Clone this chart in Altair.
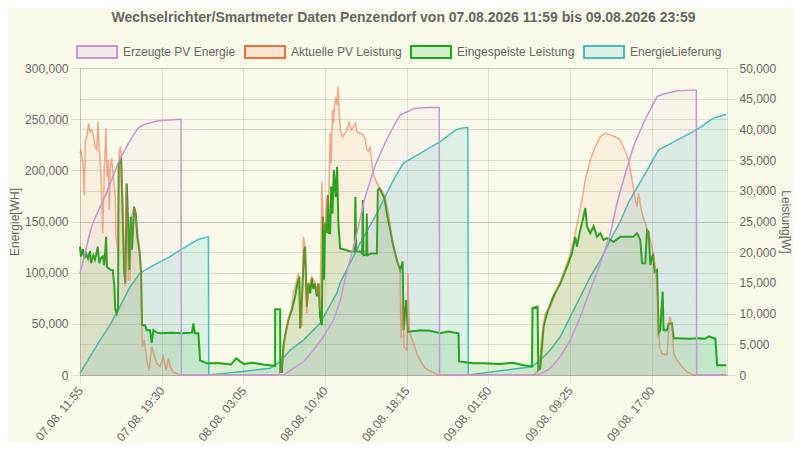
import altair as alt
import pandas as pd

FONT = "Liberation Sans"
TITLE = "Wechselrichter/Smartmeter Daten Penzendorf von 07.08.2026 11:59 bis 09.08.2026 23:59"
SERIES = ["Erzeugte PV Energie", "Aktuelle PV Leistung", "Eingespeiste Leistung", "EnergieLieferung"]
STROKES = ["#c896d6", "#e8703c", "#19a819", "#45bec4"]
START = "2026-08-07 11:55"
END = "2026-08-09 23:59"
TICKS = ["2026-08-07 11:55", "2026-08-07 19:30", "2026-08-08 03:05", "2026-08-08 10:40",
         "2026-08-08 18:15", "2026-08-09 01:50", "2026-08-09 09:25", "2026-08-09 17:00"]
ENERGY_TICKS = [0, 50000, 100000, 150000, 200000, 250000, 300000]
POWER_TICKS = [0, 5000, 10000, 15000, 20000, 25000, 30000, 35000, 40000, 45000, 50000]

# hours after 07.08. 11:55 and values
PV_ENERGIE_H = [0, 0.9, 1.17, 2.42, 3.65, 4.64, 5.37, 5.97, 7.25, 9.29,
                9.38, 9.41, 18.88, 19.81, 20.74, 21.67, 22.60, 23.53, 24.15, 24.62,
                25.57, 26.47, 27.41, 28.33, 29.26, 29.72, 30.35, 30.96, 32.2, 33.35,
                33.38, 42.11, 42.73, 43.66, 44.59, 45.52, 46.45, 47.37, 48.30, 49.23,
                49.86, 50.44, 51.37, 52.30, 53.57, 54.16, 55.46, 57.13, 57.22, 57.25,
                60.01]
PV_ENERGIE_V = [99000, 138000, 148000, 177000, 210000, 229000, 241000, 245000, 248500, 250000,
                250000, 0, 0, 6500, 13000, 24400, 37400, 53700, 72000, 94500,
                132000, 174000, 205000, 227000, 246000, 254000, 257000, 260500, 261500, 261500,
                0, 0, 1000, 6500, 17900, 34000, 57000, 83000, 109000, 138000,
                168000, 190000, 223000, 246000, 272000, 274600, 277800, 278500, 278500, 0,
                0]

LIEFERUNG_H = [0, 1.86, 2.79, 3.72, 4.64, 5.57, 6.50, 8.36, 9.29, 10.99,
               11.92, 11.96, 17.65, 18.58, 19.51, 20.74, 22.29, 23.84, 24.15, 26.01,
               27.56, 29.10, 29.72, 30.03, 31.58, 33.44, 34.83, 35.30, 36.01, 36.05,
               41.96, 42.73, 43.66, 44.59, 45.52, 46.45, 47.37, 48.30, 49.23, 50.16,
               50.94, 52.64, 53.72, 55.43, 57.29, 58.80, 59.76, 60.01]
LIEFERUNG_V = [1500, 34000, 49000, 67000, 86000, 99500, 105500, 115600, 122000, 132600,
               135000, 0, 6500, 13000, 24400, 34000, 50500, 80000, 90000, 129000,
               158000, 190500, 202000, 207000, 216600, 228000, 239000, 241000, 242000, 0,
               8100, 14700, 24400, 37400, 57000, 76500, 96000, 112000, 132000, 150000,
               169000, 200000, 220000, 229600, 240000, 251000, 254000, 254500]

PV_LEISTUNG_H = [
    0, 0.09, 0.28, 0.40, 0.49, 0.62, 0.81, 0.93, 1.09, 1.24,
    1.39, 1.55, 1.67, 1.79, 1.95, 2.11, 2.26, 2.42, 2.51, 2.63,
    2.72, 2.81, 2.94, 3.09, 3.28, 3.34, 3.50, 3.65, 3.74, 3.84,
    4.02, 4.18, 4.27, 4.40, 4.49, 4.64, 4.80, 5.02, 5.27, 5.48,
    5.64, 5.79, 5.97, 6.20, 6.41, 6.66, 6.85, 7.12, 7.43, 7.74,
    7.99, 8.20, 8.36, 8.64, 9.29,
    18.43, 18.74, 19.04, 19.35, 19.66, 19.81, 20.13, 20.28, 20.44, 20.59,
    20.74, 20.90, 21.06, 21.21, 21.37, 21.52, 21.67, 21.83, 21.99, 22.14,
    22.29, 22.45, 22.60, 22.76, 22.92, 23.07, 23.22, 23.32, 23.44, 23.53,
    23.62, 23.75, 23.87, 23.97, 24.06, 24.18, 24.37, 24.62, 24.80, 24.99,
    25.17, 25.39, 25.57, 25.71, 26.01, 26.32, 26.47, 26.63, 26.78, 26.94,
    27.10, 27.25, 27.71, 28.03, 28.33, 28.64, 28.96, 29.20, 29.42, 29.72,
    29.80, 29.95, 30.10, 30.35, 30.45, 30.58, 30.96, 31.28, 31.58, 32.05,
    32.82, 33.28,
    42.11, 42.57, 42.89, 43.04, 43.19, 43.66, 44.28, 44.89, 45.52, 45.98,
    46.29, 46.60, 46.91, 47.37, 47.84, 48.30, 48.77, 49.23, 49.70, 50.16,
    50.63, 50.94, 51.25, 51.56, 51.71, 51.86, 52.18, 52.48, 52.79, 53.11,
    53.41, 53.63, 53.81, 54.03, 54.50, 54.74, 54.96, 55.12, 55.43, 55.89,
    56.36, 56.97, 60.01]
PV_LEISTUNG_V = [
    36100, 36700, 34200, 29300, 38000, 38800, 41000, 39600, 39900, 39100,
    37200, 36700, 41300, 36700, 32800, 23100, 33900, 40200, 32300, 35000,
    26900, 33900, 35300, 32300, 29000, 22500, 20400, 36100, 37200, 36000,
    24200, 14400, 31200, 24000, 15500, 15500, 25800, 27400, 24700, 21400,
    16600, 4600, 5700, 2400, 800, 4600, 3500, 1900, 1400, 3000,
    800, 2700, 1400, 500, 0,
    0, 1100, 6200, 9000, 11100, 13300, 15500, 16600, 8100, 8000,
    22500, 20900, 10000, 15000, 14700, 16000, 15500, 15000, 13300, 15000,
    10600, 31500, 24000, 23600, 29000, 27000, 39400, 34500, 43200, 41000,
    43700, 45300, 44000, 47000, 42600, 39900, 38800, 39400, 39900, 41300,
    39900, 40400, 41000, 39600, 39400, 39100, 38500, 36700, 36400, 37200,
    34500, 32600, 30700, 30100, 29000, 26300, 22500, 20400, 18700, 17100,
    6000, 12000, 4500, 4100, 16600, 7000, 5200, 3500, 2400, 1100,
    400, 0,
    0, 800, 6800, 8400, 10000, 11100, 13800, 16600, 19800, 23100,
    25800, 28500, 31800, 35000, 37200, 38800, 39400, 39100, 38800, 38300,
    36400, 35000, 31800, 28500, 27400, 29600, 26300, 24700, 23100, 20900,
    17600, 13300, 4600, 3500, 3300, 9500, 8400, 3500, 2400, 1400,
    500, 0, 0]

EINGESPEIST_H = [
    0, 0.09, 0.28, 0.40, 0.56, 0.74, 0.93, 1.02, 1.24, 1.39,
    1.55, 1.64, 1.79, 1.95, 2.11, 2.26, 2.42, 2.51, 2.63, 2.88,
    3.04, 3.19, 3.28, 3.41, 3.53, 3.59, 3.72, 3.81, 3.95, 4.09,
    4.21, 4.34, 4.46, 4.58, 4.71, 4.83, 5.02, 5.17, 5.32, 5.51,
    5.67, 5.76, 6.04, 6.20, 6.50, 6.66, 6.81, 7.12, 7.43, 8.4,
    9.5, 10.4, 10.53, 10.65, 10.99, 11.15, 11.77, 13.0, 14.0, 14.5,
    15.2, 16.0, 17.0, 17.6, 18.11,
    18.12, 18.58, 18.60, 18.74, 18.88, 19.04, 19.35, 19.66, 19.97, 20.18,
    20.37, 20.44, 20.59, 20.81, 20.90, 21.06, 21.21, 21.37, 21.52, 21.67,
    21.83, 21.99, 22.14, 22.29, 22.45, 22.55, 22.65, 22.76, 22.92, 23.01,
    23.13, 23.22, 23.32, 23.44, 23.57, 23.75, 23.87, 23.99, 24.15, 24.62,
    25.08, 25.50, 25.57, 25.64, 26.01, 26.20, 26.26, 26.32, 26.58, 26.63,
    26.68, 27.05, 27.56, 27.65, 27.80, 28.03, 28.27, 28.49, 28.80, 29.10,
    29.42, 29.72, 29.95, 30.05, 30.27, 30.45, 30.65, 31.58, 32.5, 33.44,
    34.2, 35.14, 35.20, 36.5, 37.46, 39.0, 40.2, 41.18, 41.96,
    42.01, 42.48, 42.55, 42.73, 43.04, 43.35, 43.94, 44.59, 45.21, 45.67,
    45.98, 46.14, 46.38, 46.60, 46.91, 47.07, 47.37, 47.68, 48.00, 48.30,
    48.61, 48.93, 49.23, 49.54, 50.16, 50.79, 51.37, 51.71, 52.02, 52.18,
    52.48, 52.64, 52.79, 52.95, 53.20, 53.35, 53.57, 53.72, 53.87, 54.09,
    54.18, 54.50, 54.65, 54.96, 55.12, 55.43, 56.5, 57.5, 58.0, 58.4,
    58.99, 59.15, 60.01]
EINGESPEIST_V = [
    20900, 19300, 20500, 19000, 19800, 19000, 20200, 18200, 19500, 18800,
    20000, 20900, 18200, 19000, 19300, 17900, 22500, 17600, 17400, 17100,
    17100, 14400, 10600, 10000, 10900, 34500, 35000, 35600, 27000, 17100,
    14900, 31200, 25000, 17100, 25800, 20400, 27400, 26300, 22500, 20400,
    16800, 8100, 8100, 7300, 7300, 5200, 7300, 6900, 6800, 6900,
    6800, 6900, 8400, 6800, 6800, 2400, 1900, 1900, 1700, 2700,
    1800, 2000, 1700, 1600, 1500,
    10700, 10700, 500, 500, 4600, 6500, 9000, 10600, 12800, 14900,
    16000, 7600, 12000, 20400, 20900, 11100, 14900, 13300, 15800, 14000,
    14900, 12800, 14900, 9500, 8100, 25800, 15500, 24700, 23100, 29300,
    23100, 23100, 30700, 26300, 33400, 29000, 33900, 24700, 20600, 20400,
    20100, 20100, 29000, 20100, 20100, 19800, 28500, 19500, 19600, 26300,
    19500, 19800, 19800, 30100, 30400, 29600, 28800, 26300, 23600, 20900,
    18700, 17100, 18500, 7300, 12200, 7000, 7100, 7300, 7200, 6800,
    7100, 6800, 2200, 1900, 1900, 1800, 2000, 1600, 1400,
    10900, 11100, 800, 1100, 7900, 10000, 12800, 14900, 17600, 19800,
    22500, 20900, 23100, 24700, 27200, 24200, 23100, 24200, 22500, 23100,
    22000, 22300, 22000, 21700, 22500, 22500, 22500, 23100, 22000, 18200,
    18200, 23600, 23300, 17900, 19800, 16800, 17100, 6800, 7300, 13600,
    7300, 7300, 8400, 8400, 6000, 6000, 5900, 6000, 5900, 6300,
    5900, 1600, 1600]


def frame(name, hours, values):
    t = pd.Timestamp(START) + pd.to_timedelta(hours, unit="h")
    return pd.DataFrame({"t": t.strftime("%Y-%m-%dT%H:%M:%S"), "v": values, "series": name})


def dt(s):
    ts = pd.Timestamp(s)
    return alt.DateTime(year=ts.year, month=ts.month, date=ts.day, hours=ts.hour, minutes=ts.minute)


GRID = "rgba(0,0,0,0.11)"
TXT = "#666666"

x_enc = alt.X(
    "t:T",
    title=None,
    scale=alt.Scale(domain=[dt(START), dt(END)]),
    axis=alt.Axis(values=[dt(s) for s in TICKS], format="%d.%m. %H:%M", labelAngle=310,
                  grid=True, gridColor=GRID, tickColor=GRID, tickSize=8, domainColor=GRID,
                  labelPadding=5, labelFontSize=12, labelColor=TXT, labelFont=FONT),
)

# fill legend (light boxes with labels) and stroke legend (box borders) drawn at the same place
fill_scale = alt.Scale(domain=SERIES, range=STROKES)
stroke_scale = alt.Scale(domain=SERIES + [""], range=STROKES + ["transparent"])
LEG = dict(title=None, orient="none", legendX=-4, legendY=-37, direction="horizontal",
           symbolType="M-1,-0.3H1V0.3H-1Z", symbolSize=1600, symbolStrokeWidth=2,
           labelFontSize=12, labelFont=FONT, columnPadding=5, labelOffset=5, padding=0)
fill_legend = alt.Legend(symbolOpacity=0.16, symbolStrokeColor="transparent", labelColor=TXT, **LEG)
stroke_legend = alt.Legend(symbolFillColor="transparent", labelOpacity=0, labelColor=TXT, **LEG)

left_axis = alt.Axis(orient="left", values=ENERGY_TICKS, format=",d", title="Energie[WH]",
                     grid=True, gridColor=GRID, tickColor=GRID, tickSize=8, domainColor=GRID,
                     labelPadding=4, labelFontSize=12, labelColor=TXT, labelFont=FONT,
                     titleFont=FONT, titleFontSize=12, titleFontWeight="normal", titleColor=TXT,
                     titlePadding=3)
right_axis = alt.Axis(orient="right", values=POWER_TICKS, format=",d", title="Leistung[W]",
                      grid=True, gridColor=GRID, tickColor=GRID, tickSize=8, domainColor=GRID,
                      labelPadding=4, labelFontSize=12, labelColor=TXT, labelFont=FONT,
                      titleFont=FONT, titleFontSize=12, titleFontWeight="normal", titleColor=TXT,
                      titlePadding=3)


def layers(df, domain, axis, fill_op, stroke_w, stroke_op):
    y = alt.Y("v:Q", stack=None, scale=alt.Scale(domain=domain, nice=False, zero=True),
              axis=axis, title=None)
    base = alt.Chart(df).encode(x=x_enc)
    area = base.mark_area(fillOpacity=fill_op, interpolate="linear").encode(
        y=y, fill=alt.Fill("series:N", scale=fill_scale, legend=fill_legend))
    y2 = alt.Y("v:Q", stack=None, scale=alt.Scale(domain=domain, nice=False, zero=True),
               axis=None, title=None)
    line = base.mark_line(strokeWidth=stroke_w, strokeOpacity=stroke_op, interpolate="linear").encode(
        y=y2, stroke=alt.Stroke("series:N", scale=stroke_scale, legend=stroke_legend))
    return [area, line]


df_energie = frame(SERIES[0], PV_ENERGIE_H, PV_ENERGIE_V)
df_pv = frame(SERIES[1], PV_LEISTUNG_H, PV_LEISTUNG_V)
df_ein = frame(SERIES[2], EINGESPEIST_H, EINGESPEIST_V)
df_lief = frame(SERIES[3], LIEFERUNG_H, LIEFERUNG_V)

parts = []
parts += layers(df_lief, [0, 300000], left_axis, 0.17, 1.5, 1)
parts += layers(df_ein, [0, 50000], right_axis, 0.12, 2, 1)
parts += layers(df_pv, [0, 50000], None, 0.08, 1.5, 0.55)
parts += layers(df_energie, [0, 300000], None, 0.07, 1.5, 1)

chart = alt.layer(*parts).resolve_scale(y="independent").properties(
    width=647,
    height=307,
    padding={"left": 72, "top": 60, "right": 66, "bottom": 68},
    autosize=alt.AutoSizeParams(type="none"),
    title=alt.TitleParams(TITLE, fontSize=14, fontWeight="bold", color=TXT, font=FONT,
                          anchor="middle", offset=6),
).configure(background="#fafaeb").configure_view(stroke=None)

chart.save("out.html", embed_options={"renderer": "svg", "actions": False})
